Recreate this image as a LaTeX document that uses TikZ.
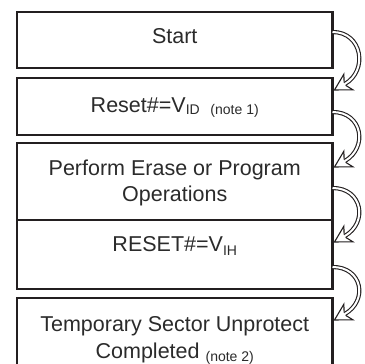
\documentclass[tikz,border=0pt]{standalone}
\usepackage{fontspec}
\setmainfont{Liberation Sans}
\usetikzlibrary{calc}
\definecolor{ink}{HTML}{231F20}
\definecolor{txt}{HTML}{2B2B2B}
\newcommand{\subtxt}[2][2pt]{\raisebox{-#1}{\fontsize{14}{14}\selectfont #2}}
\newcommand{\flowarrow}[2]{%
  \begin{scope}[shift={(#2)}, rotate=210]
    \coordinate (hb) at (-12,0);
  \end{scope}
  \draw[flow] (#1) .. controls +(0:30) and +(30:27) .. (hb);
  \begin{scope}[shift={(#2)}, rotate=210]
    \fill[white] (-12,1.55) -- (-16,9) -- (0,0) -- (-16,-9) -- (-12,-1.55) -- cycle;
    \draw[headline] (-12,1.55) -- (-16,9) -- (0,0) -- (-16,-9) -- (-12,-1.55);
  \end{scope}
}
\begin{document}
\begin{tikzpicture}[x=1pt,y=1pt,
  box/.style={draw=ink, line width=2.2pt, rectangle, inner sep=0pt, outer sep=0pt, minimum width=315.5pt},
  lbl/.style={anchor=base, inner sep=0pt, text=txt, font=\fontsize{21.5}{24}\selectfont},
  flow/.style={draw=ink, double=white, line width=1.1pt, double distance=2pt},
  headline/.style={draw=ink, line width=1.1pt, line join=miter}
]
\useasboundingbox (0,0) rectangle (365,364);
\clip (0,0) rectangle (365,364);
\fill[white] (0,0) rectangle (365,364);

% boxes
\node[box, minimum height=56pt] (b1) at (174.75,324) {};
\node[box, minimum height=57pt] (b2) at (174.75,257.5) {};
\node[box, minimum height=77pt] (b3) at (174.75,182.5) {};
\node[box, minimum height=69pt] (b4) at (174.75,109.5) {};
\node[box, minimum height=86pt] (b5) at (174.75,23) {};

% texts
\node[lbl] (t1) at (174.75,320.7) {Start};
\node[lbl] (t2) at (174.75,251) {Reset\#=V\subtxt{ID}\hspace{0.5em}\subtxt{(note 1)}};
\node[lbl] (t3a) at (174.75,188.3) {Perform Erase or Program};
\node[lbl] (t3b) at (174.75,162.7) {Operations};
\node[lbl] (t4) at (174.75,112) {RESET\#=V\subtxt[4pt]{IH}};
\node[lbl] (t5a) at (174.75,32) {Temporary Sector Unprotect};
\node[lbl] (t5b) at (174.75,5.5) {Completed \subtxt[3pt]{(note 2)}};

% arrow end points
\coordinate (s1) at ($(b1.north east)+(0,-20)$);
\coordinate (e1) at ($(b2.north east)+(2,-12)$);
\coordinate (s2) at ($(b2.north east)+(0,-34)$);
\coordinate (e2) at ($(b3.north east)+(2,-24)$);
\coordinate (s3) at ($(b3.north east)+(0,-45)$);
\coordinate (e3) at ($(b4.north east)+(2,-22)$);
\coordinate (s4) at ($(b4.north east)+(0,-47)$);
\coordinate (e4) at ($(b5.north east)+(2,-22)$);

\flowarrow{s1}{e1}
\flowarrow{s2}{e2}
\flowarrow{s3}{e3}
\flowarrow{s4}{e4}
\end{tikzpicture}
\end{document}
